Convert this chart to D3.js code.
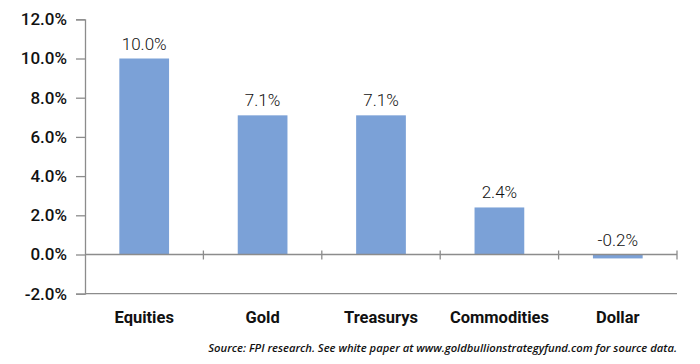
<!DOCTYPE html>
<html><head><meta charset="utf-8">
<script src="https://cdn.jsdelivr.net/npm/d3@7"></script>
<style>
html,body{margin:0;padding:0;background:#fff;}
svg{display:block;}
</style></head>
<body>
<svg id="chart" width="700" height="364"></svg>
<script>
const categories = ["Equities", "Gold", "Treasurys", "Commodities", "Dollar"];
const values = [10.0, 7.1, 7.1, 2.4, -0.2];
const valueLabels = ["10.0%", "7.1%", "7.1%", "2.4%", "-0.2%"];
const yTicks = [-2, 0, 2, 4, 6, 8, 10, 12];
const sourceText = "Source: FPI research. See white paper at www.goldbullionstrategyfund.com for source data.";

(function () {
const svg = d3.select("#chart");
const mLeft = 85, mRight = 677, mTop = 19.3, mBottom = 293.7;

const x = d3.scaleBand().domain(categories).range([mLeft, mRight]).paddingInner(0.58).paddingOuter(0.29);
const y = d3.scaleLinear().domain([-2, 12]).range([mBottom, mTop]);

const axisColor = "#8c8c8c";

// y axis
const yAxis = d3.axisLeft(y).tickValues(yTicks).tickSize(9).tickPadding(9)
  .tickFormat(d => d.toFixed(1) + "%");
const gy = svg.append("g").attr("transform", `translate(${mLeft},0)`).call(yAxis);
gy.select(".domain").attr("stroke", axisColor).attr("stroke-width", 1.3);
gy.selectAll(".tick line").attr("stroke", axisColor).attr("stroke-width", 1.3);
gy.selectAll(".tick text").attr("font-family", "Roboto, sans-serif").attr("font-size", 17)
  .attr("font-weight", 500).attr("fill", "#111");

// bottom line
svg.append("line").attr("x1", mLeft).attr("x2", mRight).attr("y1", y(-2)).attr("y2", y(-2))
  .attr("stroke", axisColor).attr("stroke-width", 1.3);

// bars
svg.selectAll("rect.bar").data(values).join("rect").attr("class", "bar")
  .attr("x", (d, i) => x(categories[i]))
  .attr("width", x.bandwidth())
  .attr("y", d => y(Math.max(0, d)))
  .attr("height", d => Math.abs(y(d) - y(0)))
  .attr("fill", "#7ba1d7");

// zero line with category ticks
svg.append("line").attr("x1", mLeft).attr("x2", mRight).attr("y1", y(0)).attr("y2", y(0))
  .attr("stroke", axisColor).attr("stroke-width", 1.3);
const step = x.step();
const boundaries = categories.map((c, i) => mLeft + step * (i + 1));
svg.selectAll("line.ctick").data(boundaries).join("line").attr("class", "ctick")
  .attr("x1", d => d).attr("x2", d => d)
  .attr("y1", y(0) - 4).attr("y2", y(0) + 5)
  .attr("stroke", axisColor).attr("stroke-width", 1.3);

// value labels
svg.selectAll("text.val").data(values).join("text").attr("class", "val")
  .attr("x", (d, i) => x(categories[i]) + x.bandwidth() / 2)
  .attr("y", d => (d >= 0 ? y(d) : y(0)) - 9)
  .attr("text-anchor", "middle")
  .attr("font-family", "Roboto, sans-serif").attr("font-size", 17).attr("font-weight", 300)
  .attr("fill", "#111")
  .text((d, i) => valueLabels[i]);

// category labels
svg.selectAll("text.cat").data(categories).join("text").attr("class", "cat")
  .attr("x", d => x(d) + x.bandwidth() / 2)
  .attr("y", 323)
  .attr("text-anchor", "middle")
  .attr("font-family", "Roboto, sans-serif").attr("font-size", 16.5).attr("font-weight", 700)
  .attr("fill", "#111")
  .text(d => d);

// source
const src = svg.append("text").attr("x", mRight).attr("y", 352).attr("text-anchor", "end")
  .attr("font-family", "'Open Sans', sans-serif").attr("font-style", "italic").attr("font-size", 11)
  .attr("font-weight", 600).attr("fill", "#111")
  .text(sourceText);
const w = src.node().getComputedTextLength();
src.attr("font-size", 11 * 469 / w);
})();
</script>
</body></html>
